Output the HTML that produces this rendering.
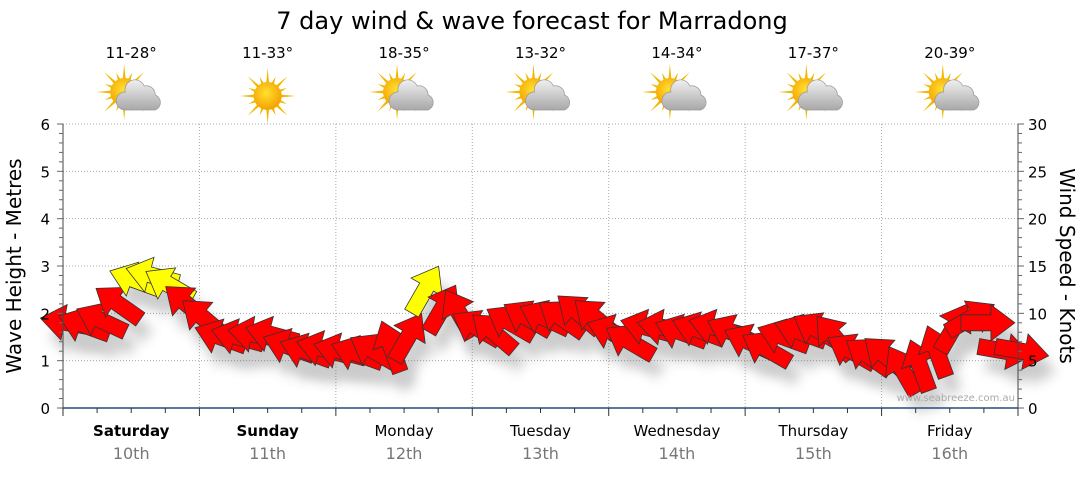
<!DOCTYPE html>
<html><head><meta charset="utf-8"><style>
body{margin:0;background:#fff;font-family:"DejaVu Sans","Liberation Sans",sans-serif;}
svg text{font-family:"DejaVu Sans","Liberation Sans",sans-serif;}
</style></head><body>
<svg id="c" width="1080" height="475" viewBox="0 0 1080 475">
<defs>
<filter id="sh" x="-50%" y="-50%" width="200%" height="200%"><feGaussianBlur stdDeviation="6"/></filter>
<radialGradient id="sun" cx="45%" cy="40%" r="60%"><stop offset="0" stop-color="#ffe030"/><stop offset="1" stop-color="#f5a000"/></radialGradient>
<linearGradient id="cloud" x1="0" y1="0" x2="0" y2="1"><stop offset="0" stop-color="#f0f0f0"/><stop offset="1" stop-color="#a8a8a8"/></linearGradient>
</defs>
<text x="532" y="29" font-size="24" text-anchor="middle">7 day wind &amp; wave forecast for Marradong</text>
<g id="grid"></g>
<g id="shadows" opacity="0.3"></g>
<g id="arrows"></g>
<g id="axes"></g>
<text x="1015" y="401" font-size="10" fill="#aaa" text-anchor="end">www.seabreeze.com.au</text>
<text transform="translate(21,266) rotate(-90)" font-size="20" text-anchor="middle">Wave Height - Metres</text>
<text transform="translate(1060,266) rotate(90)" font-size="20" text-anchor="middle">Wind Speed - Knots</text>
</svg>
<script>
const days=["Saturday","Sunday","Monday","Tuesday","Wednesday","Thursday","Friday"];
const dates=["10th","11th","12th","13th","14th","15th","16th"];
const temps=["11-28°","11-33°","18-35°","13-32°","14-34°","17-37°","20-39°"];
const icons=["partly","sunny","partly","partly","partly","partly","partly"];
const leftTicks=[0,1,2,3,4,5,6];
const rightTicks=[0,5,10,15,20,25,30];
// 3-hourly points: height (m), arrow direction (deg, 180 = pointing left), wind speed (knots)
const heights=[1.8,1.75,1.85,2.2,2.7,2.8,2.6,2.2, 1.9,1.5,1.5,1.55,1.55,1.3,1.2,1.25, 1.2,1.15,1.2,1.3,1.5,2.5,2.1,2.0, 1.7,1.6,1.8,1.9,1.9,1.9,2.0,1.9, 1.6,1.4,1.7,1.7,1.6,1.65,1.7,1.6, 1.4,1.25,1.5,1.6,1.65,1.5,1.2,1.1, 1.1,0.8,0.9,1.2,1.7,1.9,1.8,1.2,1.2];
const dirs=[190,200,205,215,200,195,210,220, 220,200,195,190,195,200,200,195, 195,200,210,250,300,300,300,240, 210,220,210,210,205,215,220,220, 200,210,195,190,200,200,195,205, 205,210,200,200,210,230,210,215, 220,240,250,250,300,330,0,10,10];
const speeds=[9,9,10,12,15,16,15,12, 10,9,9,9,9,8,8,8, 8,8,8,9,11,16,12,11, 10,10,11,11,11,11,11,11, 10,9,10,10,10,10,10,10, 9,9,10,10,10,10,9,9, 9,8,8,9,10,11,11,9,9];

const X0=63,X1=1018,Y0=408,Y6=124,DW=(X1-X0)/7;
const yS=v=>Y0-(v/6)*(Y0-Y6);
const yK=v=>Y0-(v/30)*(Y0-Y6);
const xT=i=>X0+i*(DW/8)+4;
const ns="http://www.w3.org/2000/svg";
function mk(t,a,p){const e=document.createElementNS(ns,t);for(const k in a)e.setAttribute(k,a[k]);p.appendChild(e);return e;}
const grid=document.getElementById('grid'),axes=document.getElementById('axes'),svg=document.getElementById('c');
for(let v=1;v<=6;v++){const l=mk('line',{x1:X0,x2:X1,y1:yS(v),y2:yS(v),stroke:'#aaa','stroke-dasharray':'1,2'},grid);
}
for(let d=1;d<7;d++){const l=mk('line',{x1:X0+d*DW,x2:X0+d*DW,y1:Y6,y2:Y0,stroke:'#aaa','stroke-dasharray':'1,2'},grid);
}
mk('line',{x1:X0,x2:X1,y1:Y0,y2:Y0,stroke:'#1f4e79','stroke-width':1.5},axes);
mk('line',{x1:X0,x2:X0,y1:Y6,y2:Y0,stroke:'#444'},axes);
mk('line',{x1:X1,x2:X1,y1:Y6,y2:Y0,stroke:'#444'},axes);
for(let i=0;i<=30;i++){const y=Y0-i*(Y0-Y6)/30;const maj=i%5==0;
mk('line',{x1:X0-(maj?6:4),x2:X0,y1:y,y2:y,stroke:'#666'},axes);
mk('line',{x1:X1,x2:X1+(maj?6:4),y1:y,y2:y,stroke:'#666'},axes);}
leftTicks.forEach(v=>{const t=mk('text',{x:X0-13,y:yS(v)+6,'font-size':15,'text-anchor':'end'},axes);t.textContent=v;
});
rightTicks.forEach(v=>{const t=mk('text',{x:X1+10,y:yK(v)+6,'font-size':15},axes);t.textContent=v;
});
for(let i=0;i<=28;i++){const x=X0+i*DW/4;mk('line',{x1:x,x2:x,y1:Y0,y2:Y0+(i%4==0?8:5),stroke:'#333'},axes);}
days.forEach((d,i)=>{const cx=X0+DW*(i+.5);
const t=mk('text',{x:cx,y:436,'font-size':15,'text-anchor':'middle','font-weight':i<2?'bold':'normal'},axes);t.textContent=d;

const t2=mk('text',{x:cx,y:459,'font-size':16,'text-anchor':'middle',fill:'#777'},axes);t2.textContent=dates[i];

const t3=mk('text',{x:cx,y:58,'font-size':15,'text-anchor':'middle'},svg);t3.textContent=temps[i];

const g=mk('g',{transform:`translate(${cx},96)`},svg);

const sx=icons[i]=='sunny'?0:-7,sy=icons[i]=='sunny'?0:-4;
for(let k=0;k<16;k++){const a=k*Math.PI/8,L=k%2?21:28;
mk('polygon',{points:`${sx+Math.cos(a-0.13)*12},${sy+Math.sin(a-0.13)*12} ${sx+Math.cos(a)*L},${sy+Math.sin(a)*L} ${sx+Math.cos(a+0.13)*12},${sy+Math.sin(a+0.13)*12}`,fill:'#f2b800'},g);}
mk('circle',{cx:sx,cy:sy,r:14,fill:'url(#sun)'},g);
if(icons[i]!='sunny'){mk('path',{d:'M-6,14 h30 a8,8 0 0 0 0,-15 a9,9 0 0 0 -11,-9 a10,10 0 0 0 -19,6 a9,9 0 0 0 0,18z',fill:'url(#cloud)',stroke:'#999','stroke-width':0.7},g);}
});
const arrG=document.getElementById('arrows'),shG=document.getElementById('shadows');
const shape='M27,0 L3,-18 L3,-8 L-27,-8 L-27,8 L3,8 L3,18 Z';
heights.forEach((h,i)=>{const x=xT(i),y=yS(h);
const s=mk('path',{d:shape,transform:`translate(${x+8},${y+16}) rotate(${dirs[i]})`,fill:'#555',filter:'url(#sh)'},shG);

const a=mk('path',{d:shape,transform:`translate(${x},${y}) rotate(${dirs[i]})`,fill:speeds[i]>=15?'#ffff00':'#ff0000',stroke:'#333','stroke-width':0.8},arrG);
});
</script>
</body></html>
